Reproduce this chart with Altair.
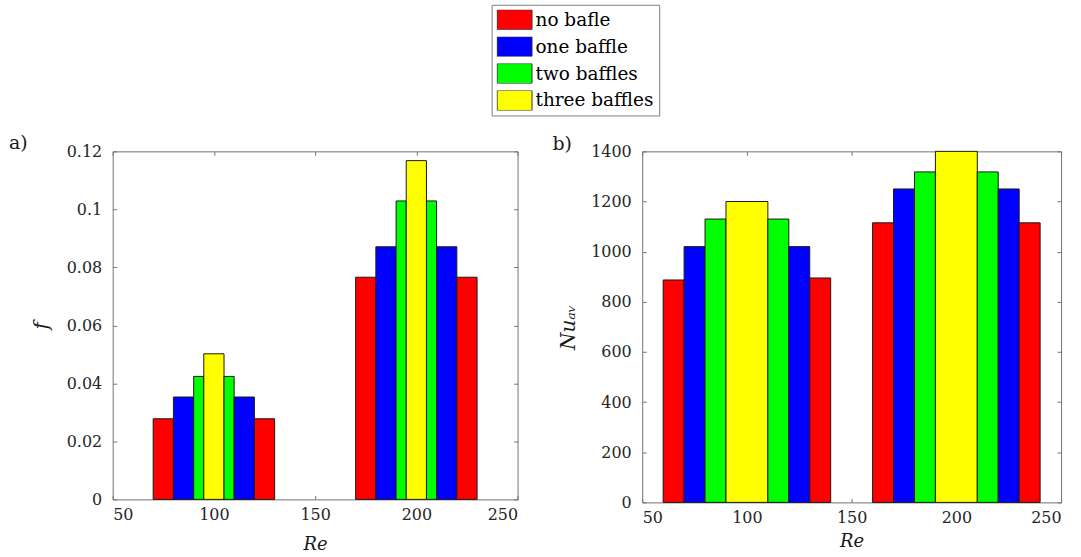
import altair as alt
import pandas as pd

series_names = ["no bafle", "one baffle", "two baffles", "three baffles"]
series_colors = ["#ff0000", "#0000ff", "#00ff00", "#ffff00"]

# bar order within each Re group: outer -> inner -> outer
group_series = [0, 1, 2, 3, 2, 1, 0, 0, 1, 2, 3, 2, 1, 0]

# a) friction factor
f_re_from = [70, 80, 90, 95, 105, 110, 120, 170, 180, 190, 195, 205, 210, 220]
f_re_to = [80, 90, 95, 105, 110, 120, 130, 180, 190, 195, 205, 210, 220, 230]
f_values = [0.0278, 0.0353, 0.0424, 0.0502, 0.0424, 0.0353, 0.0278,
            0.0766, 0.0871, 0.1029, 0.1168, 0.1029, 0.0871, 0.0766]

# b) average Nusselt number
nu_re_from = [60, 70, 80, 90, 110, 120, 130, 160, 170, 180, 190, 210, 220, 230]
nu_re_to = [70, 80, 90, 110, 120, 130, 140, 170, 180, 190, 210, 220, 230, 240]
nu_values = [887, 1020, 1130, 1200, 1130, 1020, 895,
             1115, 1250, 1318, 1400, 1318, 1250, 1115]

re_ticks = [50, 100, 150, 200, 250]
f_ticks = [0, 0.02, 0.04, 0.06, 0.08, 0.1, 0.12]
nu_ticks = [0, 200, 400, 600, 800, 1000, 1200, 1400]

SERIF = "DejaVu Serif"
AXIS_GREY = "#737373"
LABEL_COLOR = "#262626"
TEXT_COLOR = "#1a1a1a"

legend = alt.Legend(
    title=None, orient="none", legendX=380, legendY=-147,
    symbolType="M-1,-0.5714L1,-0.5714L1,0.5714L-1,0.5714Z",
    symbolSize=1225, symbolStrokeColor="#333333", symbolStrokeWidth=1,
    labelFont=SERIF, labelFontSize=18.5, labelColor="black", labelOffset=3,
    labelLimit=300, clipHeight=20, rowPadding=7, padding=5,
    strokeColor="#808080", fillColor="white",
)


def frame(re_from, re_to, values):
    return pd.DataFrame({
        "re0": re_from, "re1": re_to, "value": values,
        "series": [series_names[i] for i in group_series],
    })


def panel(df, y_ticks, y_max, y_format, y_title, tag, tag_dx, tag_dy,
          w, h, x_title_pad, y_title_pad):
    x_scale = alt.Scale(domain=[50, 250], nice=False, zero=False)
    y_scale = alt.Scale(domain=[0, y_max], nice=False)
    base = alt.Chart(df)

    bars = base.mark_rect(stroke=TEXT_COLOR, strokeWidth=1).encode(
        x=alt.X("re0:Q", scale=x_scale, axis=alt.Axis(
            orient="bottom", values=re_ticks, format="d", ticks=False,
            tickSize=0, domain=False, grid=False, labelPadding=7,
            labelFont=SERIF, labelFontSize=16, labelColor=LABEL_COLOR,
            title="Re", titleFont=SERIF, titleFontSize=18,
            titleFontStyle="italic", titleFontWeight="normal",
            titleColor=TEXT_COLOR, titlePadding=x_title_pad)),
        x2="re1:Q",
        y=alt.Y("value:Q", scale=y_scale, axis=alt.Axis(
            orient="left", values=y_ticks, format=y_format, ticks=False,
            tickSize=0, domain=False, grid=False, labelPadding=11,
            labelFont=SERIF, labelFontSize=16, labelColor=LABEL_COLOR,
            title=y_title, titleFont=SERIF, titleFontSize=20,
            titleFontStyle="italic", titleFontWeight="normal",
            titleColor=TEXT_COLOR, titlePadding=y_title_pad)),
        y2=alt.datum(0),
        color=alt.Color("series:N", scale=alt.Scale(
            domain=series_names, range=series_colors), legend=legend),
    )

    # inward-pointing ticks on all four sides of the frame
    def tick_layer(x_orient, y_orient):
        return base.mark_rect(opacity=0).encode(
            x=alt.X("re0:Q", scale=x_scale, axis=alt.Axis(
                orient=x_orient, offset=-h, values=re_ticks, labels=False,
                domain=False, grid=False, tickSize=4, tickColor=AXIS_GREY,
                title=None)),
            x2="re1:Q",
            y=alt.Y("value:Q", scale=y_scale, axis=alt.Axis(
                orient=y_orient, offset=-w, values=y_ticks, labels=False,
                domain=False, grid=False, tickSize=4, tickColor=AXIS_GREY,
                title=None)),
            y2=alt.datum(0),
        )

    tag_text = alt.Chart(alt.Data(values=[{"tag": tag}])).mark_text(
        align="left", baseline="middle", font=SERIF, fontSize=19,
        color=TEXT_COLOR,
    ).encode(text="tag:N", x=alt.value(tag_dx), y=alt.value(tag_dy))

    return alt.layer(
        tick_layer("top", "right"), tick_layer("bottom", "left"), bars, tag_text
    ).resolve_axis(x="independent", y="independent").properties(
        width=w, height=h)


panel_a = panel(frame(f_re_from, f_re_to, f_values), f_ticks, 0.12, ".2~f",
                "f", "a)", -104, -8, 406, 349, 13, 15)
panel_b = panel(frame(nu_re_from, nu_re_to, nu_values), nu_ticks, 1400, "d",
                "Nuₐᵥ", "b)", -90, -7, 420, 352, 7, 12)

chart = alt.hconcat(panel_a, panel_b, spacing=33).properties(
    padding={"left": 8, "top": 3, "right": 19, "bottom": 2},
    background="white",
).configure_view(stroke=AXIS_GREY, strokeWidth=1)

chart.save("out.html", embed_options={"renderer": "svg", "actions": False})
